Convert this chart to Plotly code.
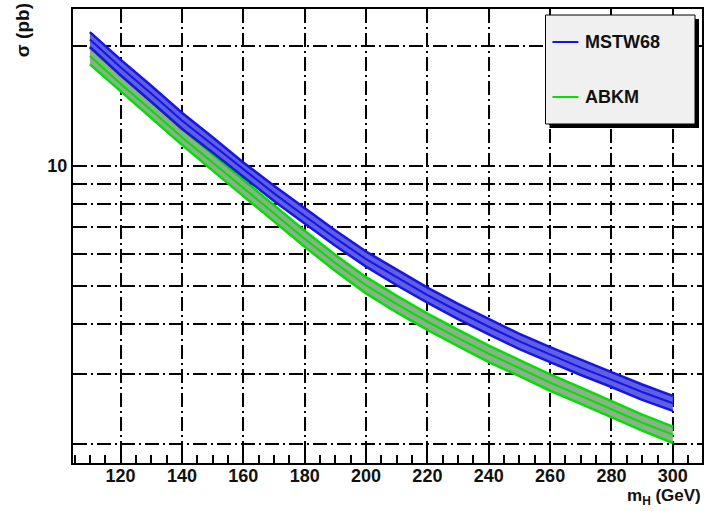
import plotly.graph_objects as go

# Higgs mass points (GeV)
m_h = [110, 120, 130, 140, 150, 160, 170, 180, 190, 200,
       210, 220, 230, 240, 250, 260, 270, 280, 290, 300]

# MSTW68: central cross section and band edges (pb)
mstw_central = [20.8, 17.7, 15.2, 13.0, 11.3, 9.80, 8.53, 7.48, 6.58, 5.83,
                5.24, 4.73, 4.31, 3.94, 3.62, 3.35, 3.11, 2.90, 2.70, 2.53]
mstw_upper = [21.7, 18.5, 15.9, 13.6, 11.8, 10.2, 8.91, 7.82, 6.88, 6.09,
              5.48, 4.94, 4.50, 4.12, 3.78, 3.50, 3.25, 3.03, 2.82, 2.64]
mstw_lower = [19.9, 16.9, 14.5, 12.4, 10.8, 9.38, 8.16, 7.16, 6.30, 5.58,
              5.01, 4.53, 4.12, 3.77, 3.46, 3.21, 2.98, 2.78, 2.58, 2.42]

# ABKM: central cross section and band edges (pb)
abkm_central = [18.9, 16.1, 13.8, 11.8, 10.2, 8.79, 7.57, 6.56, 5.70, 5.01,
                4.49, 4.06, 3.69, 3.37, 3.10, 2.85, 2.64, 2.44, 2.26, 2.11]
abkm_upper = [19.8, 16.9, 14.5, 12.4, 10.7, 9.21, 7.93, 6.87, 5.97, 5.25,
              4.71, 4.25, 3.87, 3.53, 3.25, 2.99, 2.77, 2.56, 2.37, 2.21]
abkm_lower = [18.0, 15.4, 13.2, 11.3, 9.73, 8.39, 7.22, 6.26, 5.44, 4.78,
              4.28, 3.87, 3.52, 3.21, 2.96, 2.72, 2.52, 2.33, 2.16, 2.01]

# y gridlines (log minor positions) and the only labelled one
y_grid = [2, 3, 4, 5, 6, 7, 8, 9, 10, 20]
y_text = ["", "", "", "", "", "", "", "", "10", ""]

series = [
    ("ABKM", abkm_lower, abkm_central, abkm_upper,
     "rgb(0,225,0)", "rgb(140,175,140)"),
    ("MSTW68", mstw_lower, mstw_central, mstw_upper,
     "rgb(20,20,235)", "rgb(95,95,225)"),
]

FONT = "Liberation Sans, Arial, sans-serif"

fig = go.Figure()
for name, lo, mid, hi, edge, fill in series:
    fig.add_trace(go.Scatter(x=m_h, y=lo, mode="lines",
                             line=dict(color=edge, width=2.5),
                             showlegend=False, hoverinfo="skip"))
    fig.add_trace(go.Scatter(x=m_h, y=hi, mode="lines", fill="tonexty",
                             fillcolor=fill, line=dict(color=edge, width=2.5),
                             showlegend=False, hoverinfo="skip"))
    fig.add_trace(go.Scatter(x=m_h, y=mid, mode="lines", name=name,
                             line=dict(color=edge, width=2),
                             showlegend=False))

grid_dash = "14px,4px,2px,4px"

fig.update_xaxes(
    range=[104.5, 309.5], tick0=0, dtick=20,
    showline=True, linecolor="black", linewidth=2, mirror=True,
    ticks="inside", ticklen=14, tickcolor="black", tickwidth=1.5,
    showgrid=True, gridcolor="black", gridwidth=1.6, griddash=grid_dash,
    minor=dict(dtick=5, tick0=0, ticks="inside", ticklen=8,
               tickcolor="black", tickwidth=1.5, showgrid=False),
    tickfont=dict(family=FONT, size=18, color="#111", weight="bold"),
    ticklabelstandoff=-5,
    zeroline=False,
)
fig.update_yaxes(
    type="log", range=[0.2529, 1.3945],
    tickvals=y_grid, ticktext=y_text,
    showline=True, linecolor="black", linewidth=2, mirror=True,
    ticks="inside", ticklen=12, tickcolor="black", tickwidth=1.5,
    showgrid=True, gridcolor="black", gridwidth=1.6, griddash=grid_dash,
    tickfont=dict(family=FONT, size=18, color="#111", weight="bold"),
    zeroline=False,
)

# legend box with drop shadow
W, H = 707, 511
L, R, T, B = 73, 3, 9, 48
pw, ph = W - L - R, H - T - B


def px(x):
    return (x - L) / pw


def py(y):
    return (H - B - y) / ph


shapes = [
    dict(type="rect", xref="paper", yref="paper", layer="above",
         x0=px(551), x1=px(701), y0=py(128), y1=py(19),
         fillcolor="black", line=dict(width=0)),
    dict(type="rect", xref="paper", yref="paper", layer="above",
         x0=px(547), x1=px(697), y0=py(124), y1=py(15),
         fillcolor="rgb(240,240,240)", line=dict(color="black", width=1)),
    dict(type="line", xref="paper", yref="paper", layer="above",
         x0=px(554), x1=px(580), y0=py(42), y1=py(42),
         line=dict(color="rgb(20,20,235)", width=2)),
    dict(type="line", xref="paper", yref="paper", layer="above",
         x0=px(554), x1=px(580), y0=py(97), y1=py(97),
         line=dict(color="rgb(0,225,0)", width=2)),
]

annotations = [
    dict(text="MSTW68", xref="paper", yref="paper", x=px(585), y=py(42),
         xanchor="left", yanchor="middle", showarrow=False,
         font=dict(family=FONT, size=18, color="#111", weight="bold")),
    dict(text="ABKM", xref="paper", yref="paper", x=px(585), y=py(97),
         xanchor="left", yanchor="middle", showarrow=False,
         font=dict(family=FONT, size=18, color="#111", weight="bold")),
    dict(text="σ (pb)", xref="paper", yref="paper", x=px(22), y=py(1),
         xanchor="center", yanchor="top", textangle=-90, showarrow=False,
         font=dict(family=FONT, size=19, color="#111", weight="bold")),
    dict(text="m<sub>H</sub> (GeV)", xref="paper", yref="paper",
         x=px(705), y=py(497), xanchor="right", yanchor="middle",
         showarrow=False,
         font=dict(family=FONT, size=17, color="#111", weight="bold")),
]

fig.update_layout(
    width=W, height=H,
    margin=dict(l=L, r=R, t=T, b=B),
    paper_bgcolor="white", plot_bgcolor="white",
    shapes=shapes, annotations=annotations,
    showlegend=False,
)

fig.write_html("out.html")
